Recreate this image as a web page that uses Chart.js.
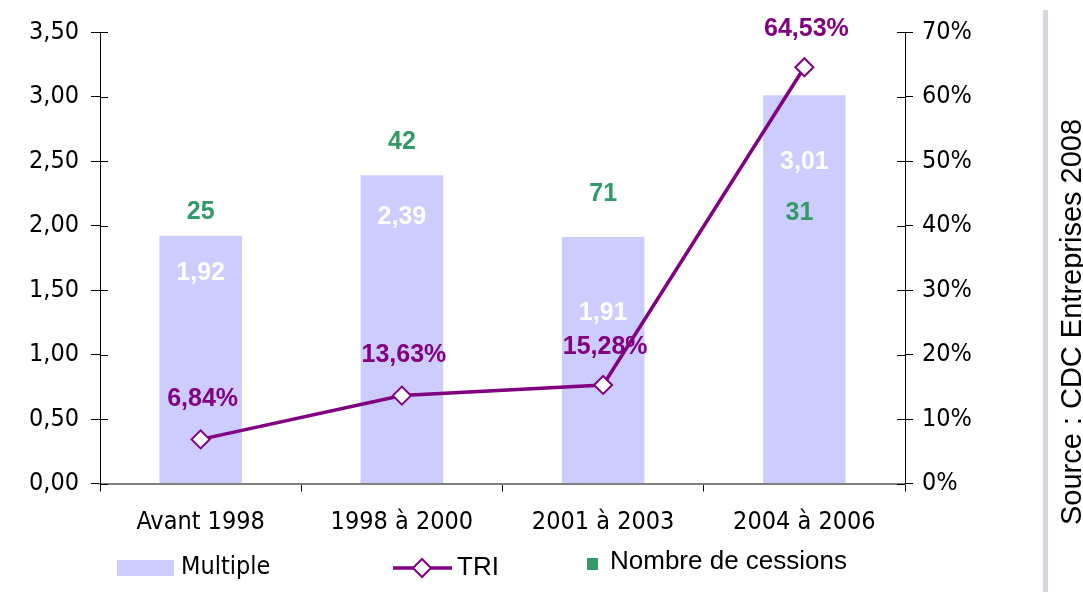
<!DOCTYPE html>
<html>
<head>
<meta charset="utf-8">
<script src="https://cdn.jsdelivr.net/npm/chart.js@4"></script>
<style>
  html, body { margin: 0; padding: 0; background: #fff; }
  #wrap { position: relative; width: 1083px; height: 592px; }
</style>
</head>
<body>
<div id="wrap"><canvas id="chart" width="1083" height="592"></canvas></div>
<script>
const periods = ["Avant 1998", "1998 à 2000", "2001 à 2003", "2004 à 2006"];
const multiple = [1.92, 2.39, 1.91, 3.01];
const tri = [6.84, 13.63, 15.28, 64.53];
const cessions = [25, 42, 71, 31];
const leftTicks = [0, 0.5, 1, 1.5, 2, 2.5, 3, 3.5];
const rightTicks = [0, 10, 20, 30, 40, 50, 60, 70];

const BAR = "#ccccff", PURPLE = "#800080", GREEN = "#339966";
const SANS = "'DejaVu Sans Condensed', 'DejaVu Sans', sans-serif";
const ARIAL = "'Liberation Sans', Arial, sans-serif";
const BOLD = "bold 25px " + ARIAL;

// label placement (px offsets from bar top / point), as in the original
const multOffset = [37, 42, 76, 67];
const cessOffset = [-24, -33, -43, 118];
const cessShiftX = [0, 0, 0, -5];
const triOffset = [-40, -40, -38, -38];

const fr = (v, d) => v.toFixed(d).replace(".", ",");

const extras = {
  id: "extras",
  afterDraw(chart) {
    const ctx = chart.ctx;
    const { x, y, y1 } = chart.scales;
    const bars = chart.getDatasetMeta(1).data;
    const pts = chart.getDatasetMeta(0).data;

    // ticks crossing into the plot
    ctx.save();
    ctx.strokeStyle = "#000";
    ctx.lineWidth = 1;
    ctx.beginPath();
    leftTicks.forEach(t => {
      const py = Math.round(y.getPixelForValue(t)) + 0.5;
      ctx.moveTo(x.left, py); ctx.lineTo(x.left + 8, py);
    });
    rightTicks.forEach(t => {
      const py = Math.round(y1.getPixelForValue(t)) + 0.5;
      ctx.moveTo(x.right - 8, py); ctx.lineTo(x.right, py);
    });
    ctx.stroke();

    ctx.textAlign = "center";
    ctx.textBaseline = "middle";
    ctx.font = BOLD;
    bars.forEach((b, i) => {
      ctx.fillStyle = "#fff";
      ctx.fillText(fr(multiple[i], 2), b.x, b.y + multOffset[i]);
      ctx.fillStyle = GREEN;
      ctx.fillText(String(cessions[i]), b.x + cessShiftX[i], b.y + cessOffset[i]);
    });
    pts.forEach((p, i) => {
      ctx.fillStyle = PURPLE;
      ctx.fillText(fr(tri[i], 2) + "%", p.x + 2, p.y + triOffset[i]);
    });

    // legend
    ctx.textAlign = "left";
    ctx.textBaseline = "alphabetic";
    ctx.fillStyle = BAR;
    ctx.fillRect(117, 560, 57, 16);
    ctx.fillStyle = "#000";
    ctx.font = "25px " + SANS;
    ctx.fillText("Multiple", 181, 574);

    ctx.strokeStyle = PURPLE;
    ctx.lineWidth = 3.5;
    ctx.beginPath();
    ctx.moveTo(393, 568); ctx.lineTo(452, 568);
    ctx.stroke();
    ctx.fillStyle = "#fff";
    ctx.lineWidth = 2;
    ctx.beginPath();
    ctx.moveTo(422, 559); ctx.lineTo(431, 568); ctx.lineTo(422, 577); ctx.lineTo(413, 568);
    ctx.closePath();
    ctx.fill(); ctx.stroke();
    ctx.fillStyle = "#000";
    ctx.font = "26px " + ARIAL;
    ctx.fillText("TRI", 457, 575);

    ctx.fillStyle = GREEN;
    ctx.fillRect(587, 558, 11, 12);
    ctx.fillStyle = "#000";
    ctx.fillText("Nombre de cessions", 610, 569);

    // source
    ctx.fillStyle = "#d4d6e2";
    ctx.fillRect(1043, 10, 5, 582);
    ctx.translate(1081, 322);
    ctx.rotate(-Math.PI / 2);
    ctx.textAlign = "center";
    ctx.fillStyle = "#000";
    ctx.font = "29px " + ARIAL;
    ctx.fillText("Source : CDC Entreprises 2008", 0, 0);
    ctx.restore();
  }
};

Chart.defaults.font.family = SANS;
Chart.defaults.color = "#000";

new Chart(document.getElementById("chart"), {
  data: {
    labels: periods,
    datasets: [
      {
        type: "line",
        label: "TRI",
        data: tri,
        yAxisID: "y1",
        order: 0,
        borderColor: PURPLE,
        borderWidth: 3.5,
        tension: 0,
        pointStyle: "rectRot",
        pointRadius: 9,
        pointBorderWidth: 2,
        pointBackgroundColor: "#fff",
        pointBorderColor: PURPLE
      },
      {
        type: "bar",
        label: "Multiple",
        data: multiple,
        yAxisID: "y",
        order: 1,
        backgroundColor: BAR,
        barPercentage: 0.41,
        categoryPercentage: 1
      }
    ]
  },
  options: {
    responsive: false,
    animation: false,
    layout: { padding: { top: 32, left: 0, right: 0, bottom: 0 } },
    plugins: { legend: { display: false }, tooltip: { enabled: false } },
    scales: {
      x: {
        offset: true,
        grid: { offset: true, drawOnChartArea: false, tickLength: 8, color: "#000" },
        border: { color: "#808080", width: 2 },
        ticks: { font: { size: 25 }, padding: 16 },
        afterFit: s => { s.height = 108.5; }
      },
      y: {
        position: "left",
        min: 0, max: 3.5,
        afterBuildTicks: s => { s.ticks = leftTicks.map(v => ({ value: v })); },
        grid: { drawOnChartArea: false, tickLength: 9, color: "#000" },
        border: { color: "#000", width: 1 },
        ticks: { font: { size: 25 }, padding: 12, callback: v => fr(v, 2) },
        afterFit: s => { s.width = 100; }
      },
      y1: {
        position: "right",
        min: 0, max: 70,
        afterBuildTicks: s => { s.ticks = rightTicks.map(v => ({ value: v })); },
        grid: { drawOnChartArea: false, tickLength: 8, color: "#000" },
        border: { color: "#000", width: 1 },
        ticks: { font: { size: 25 }, padding: 9, callback: v => v + "%" },
        afterFit: s => { s.width = 178; }
      }
    }
  },
  plugins: [extras]
});
</script>
</body>
</html>
